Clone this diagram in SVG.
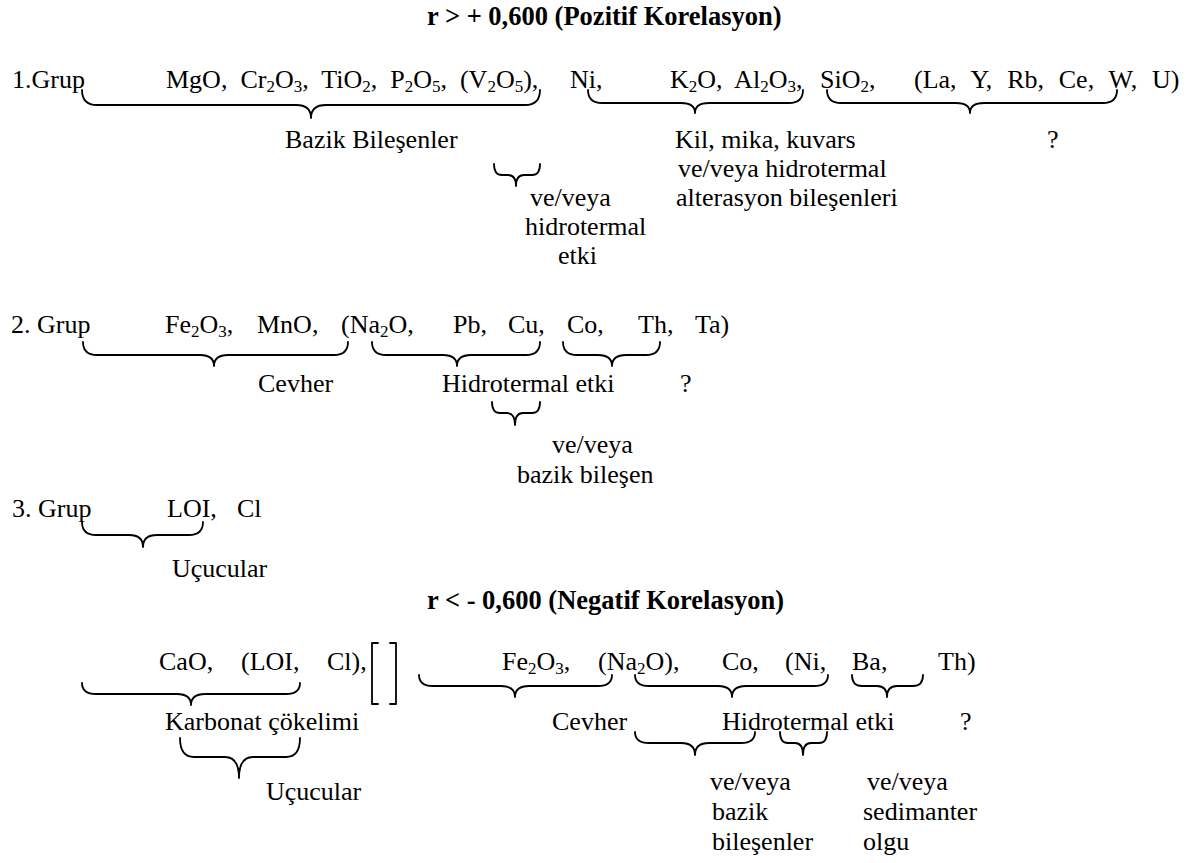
<svg xmlns="http://www.w3.org/2000/svg" width="1194" height="863" viewBox="0 0 1194 863">
<style>
text{font-family:"Liberation Serif","Times New Roman",serif;font-size:26px;fill:#000}
.b{font-weight:bold;font-size:26.5px}
.s{font-size:17px;baseline-shift:-4px}
.br{fill:none;stroke:#000;stroke-width:1.8;stroke-linecap:round;stroke-linejoin:round}
</style>
<rect width="1194" height="863" fill="#fff"/>
<g id="title-positive"><text class="b" x="427" y="25">r &gt; + 0,600 (Pozitif Korelasyon)</text></g>
<g id="group1">
<text x="12" y="88">1.Grup</text>
<text x="166" y="88" xml:space="preserve">MgO,  Cr<tspan class="s">2</tspan>O<tspan class="s">3</tspan>,  TiO<tspan class="s">2</tspan>,  P<tspan class="s">2</tspan>O<tspan class="s">5</tspan>,  (V<tspan class="s">2</tspan>O<tspan class="s">5</tspan>),</text>
<text x="570" y="88">Ni,</text>
<text x="670" y="88" xml:space="preserve">K<tspan class="s">2</tspan>O,  Al<tspan class="s">2</tspan>O<tspan class="s">3</tspan>,</text>
<text x="820" y="88">SiO<tspan class="s">2</tspan>,</text>
<text x="914" y="88" xml:space="preserve" style="word-spacing:0.9px">(La,  Y,  Rb,  Ce,  W,  U)</text>
</g>
<g id="g1-labels">
<text x="285" y="148">Bazik Bileşenler</text>
<text x="675" y="148">Kil, mika, kuvars</text>
<text x="678" y="177">ve/veya hidrotermal</text>
<text x="676" y="206">alterasyon bileşenleri</text>
<text x="1047" y="148">?</text>
<text x="530" y="206">ve/veya</text>
<text x="525" y="235">hidrotermal</text>
<text x="558" y="264">etki</text>
</g>
<g id="group2">
<text x="11" y="333">2. Grup</text>
<text x="165" y="333">Fe<tspan class="s">2</tspan>O<tspan class="s">3</tspan>,</text>
<text x="257" y="333">MnO,</text>
<text x="341" y="333">(Na<tspan class="s">2</tspan>O,</text>
<text x="453" y="333">Pb,</text>
<text x="508" y="333">Cu,</text>
<text x="567" y="333">Co,</text>
<text x="638" y="333">Th,</text>
<text x="695" y="333">Ta)</text>
</g>
<g id="g2-labels">
<text x="258" y="392">Cevher</text>
<text x="442" y="392">Hidrotermal etki</text>
<text x="680" y="392">?</text>
<text x="552" y="453">ve/veya</text>
<text x="517" y="483">bazik bileşen</text>
</g>
<g id="group3">
<text x="12" y="517">3. Grup</text>
<text x="167" y="517">LOI,</text>
<text x="237" y="517">Cl</text>
<text x="172" y="577">Uçucular</text>
</g>
<g id="title-negative"><text class="b" x="427" y="609">r &lt; - 0,600 (Negatif Korelasyon)</text></g>
<g id="negative-row">
<text x="159" y="670">CaO,</text>
<text x="241" y="670">(LOI,</text>
<text x="327" y="670">Cl),</text>
<text x="502" y="670">Fe<tspan class="s">2</tspan>O<tspan class="s">3</tspan>,</text>
<text x="598" y="670">(Na<tspan class="s">2</tspan>O),</text>
<text x="722" y="670">Co,</text>
<text x="785" y="670">(Ni,</text>
<text x="852" y="670">Ba,</text>
<text x="938" y="670">Th)</text>
<path class="br" d="M378,643 H372 V704 H378 M390,643 H396 V704 H390"/>
</g>
<g id="neg-labels">
<text x="165" y="730">Karbonat çökelimi</text>
<text x="552" y="730">Cevher</text>
<text x="722" y="730">Hidrotermal etki</text>
<text x="960" y="730">?</text>
<text x="266" y="800">Uçucular</text>
<text x="710" y="790">ve/veya</text>
<text x="712" y="820">bazik</text>
<text x="712" y="850">bileşenler</text>
<text x="867" y="790">ve/veya</text>
<text x="863" y="820">sedimanter</text>
<text x="863" y="850">olgu</text>
</g>
<g id="connectors">
<path class="br" d="M82,90 Q82,105 97,105 H296 Q311,105 311,118 Q311,105 326,105 H525 Q540,105 540,90"/>
<path class="br" d="M588,90 Q588,103 602,103 H681 Q695,103 695,113 Q695,103 709,103 H789 Q803,103 803,90"/>
<path class="br" d="M827,90 Q827,103 841,103 H956 Q970,103 970,113 Q970,103 984,103 H1103 Q1117,103 1117,90"/>
<path class="br" d="M494,164 Q494,175 502,175 H508 Q516,175 516,186 Q516,175 524,175 H532 Q540,175 540,164"/>
<path class="br" d="M83,342 Q83,355 97,355 H200 Q214,355 214,366 Q214,355 228,355 H334 Q348,355 348,342"/>
<path class="br" d="M372,342 Q372,355 386,355 H443 Q457,355 457,366 Q457,355 471,355 H526 Q540,355 540,342"/>
<path class="br" d="M563,342 Q563,355 577,355 H598 Q612,355 612,366 Q612,355 626,355 H646 Q660,355 660,342"/>
<path class="br" d="M492,402 Q492,413 500,413 H507 Q515,413 515,425 Q515,413 523,413 H532 Q540,413 540,402"/>
<path class="br" d="M82,522 Q82,535 96,535 H129 Q143,535 143,547 Q143,535 157,535 H189 Q203,535 203,522"/>
<path class="br" d="M82,683 Q82,694 96,694 H177 Q191,694 191,705 Q191,694 205,694 H286 Q300,694 300,683"/>
<path class="br" d="M419,675 Q419,686 433,686 H501 Q515,686 515,697 Q515,686 529,686 H598 Q612,686 612,675"/>
<path class="br" d="M635,675 Q635,686 649,686 H718 Q732,686 732,697 Q732,686 746,686 H814 Q828,686 828,675"/>
<path class="br" d="M852,675 Q852,686 862,686 H877 Q887,686 887,697 Q887,686 897,686 H913 Q923,686 923,675"/>
<path class="br" d="M180,738 Q180,757 194,757 H225 Q239,757 239,778 Q239,757 253,757 H286 Q300,757 300,738"/>
<path class="br" d="M635,732 Q635,743 649,743 H681 Q695,743 695,755 Q695,743 709,743 H741 Q755,743 755,732"/>
<path class="br" d="M780,732 Q780,743 788,743 H795 Q803,743 803,755 Q803,743 811,743 H819 Q827,743 827,732"/>
</g>
</svg>
